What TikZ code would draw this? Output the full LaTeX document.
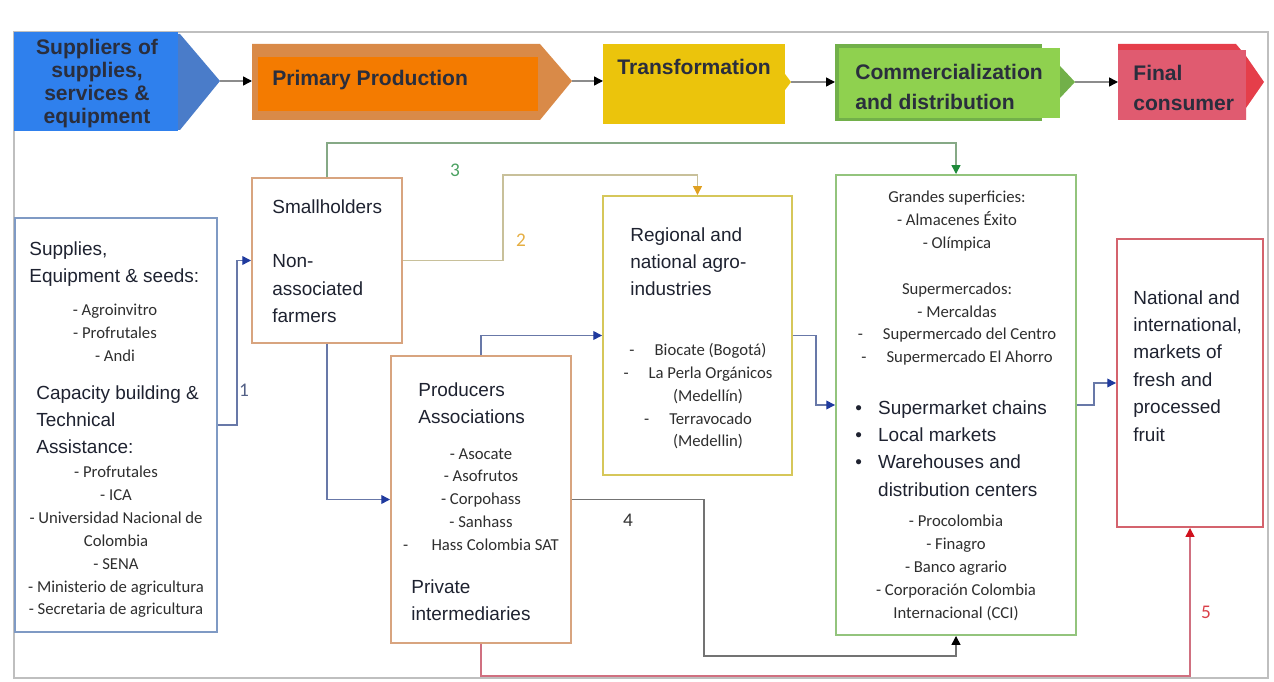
\documentclass[tikz,border=0pt]{standalone}
\usepackage{fontspec}
\setmainfont{Liberation Sans}
\newfontfamily\calf{Carlito}
\usetikzlibrary{arrows.meta,fit}
\definecolor{txt}{HTML}{1E2230}
\definecolor{gtxt}{HTML}{2E2E2E}
\definecolor{stxt}{HTML}{2A2E3D}
\definecolor{bluel}{HTML}{2F80ED}
\definecolor{blued}{HTML}{4A7CC9}
\definecolor{orgo}{HTML}{D98A48}
\definecolor{orgi}{HTML}{F47B00}
\definecolor{yel}{HTML}{EBC40C}
\definecolor{grnl}{HTML}{8FD14F}
\definecolor{grnd}{HTML}{72B04A}
\definecolor{redl}{HTML}{E05B70}
\definecolor{redd}{HTML}{E53E4A}
\definecolor{bsup}{HTML}{7F9AC4}
\definecolor{bfarm}{HTML}{D8A47F}
\definecolor{breg}{HTML}{D6C75A}
\definecolor{bcom}{HTML}{93C47D}
\definecolor{bfin}{HTML}{D4636D}
\definecolor{lblue}{HTML}{6878A8}
\definecolor{ablue}{HTML}{1F3A9E}
\definecolor{lolive}{HTML}{C8C09A}
\definecolor{aolive}{HTML}{E0A020}
\definecolor{lgreen}{HTML}{86A986}
\definecolor{agreen}{HTML}{1E8A3A}
\definecolor{lred}{HTML}{D07080}
\definecolor{ared}{HTML}{D0101C}
\begin{document}
\begin{tikzpicture}[x=0.02cm,y=-0.02cm]
	\tikzstyle{big}=[font=\fontsize{10.8}{15.6}\selectfont,text=txt,align=left,anchor=north west,inner sep=0]
	\tikzstyle{lst}=[font=\calf\fontsize{9.5}{13}\selectfont,text=gtxt,align=center,anchor=north,inner sep=0]
	\tikzstyle{stg}=[font=\bfseries\fontsize{12}{13.1}\selectfont,text=stxt,align=left,inner sep=0]
	\tikzstyle{box}=[draw,line width=1.1pt,inner sep=0]
	\tikzstyle{num}=[font=\calf\fontsize{11}{13}\selectfont,inner sep=0]
	\tikzstyle{barrow}=[draw=black!45,line width=0.8pt,-{Triangle[length=5pt,width=5pt,color=black]}]
	\tikzstyle{link}=[draw=lblue,line width=0.8pt,-{Triangle[length=5pt,width=5pt,color=ablue]}]
	\useasboundingbox (0,0) rectangle (1274,682);
	\draw[draw=black!25,line width=0.6pt] (14,32) rectangle (1268,678);
	
	% stages
	\fill[blued] (14,34) -- (180,34) -- (220,81) -- (180,130) -- (14,130) -- cycle;
	\fill[bluel] (14,32) rectangle (178,131);
	\fill[orgo] (252,44) -- (540,44) -- (572,81) -- (540,120) -- (252,120) -- cycle;
	\fill[orgi] (258,57) rectangle (538,111);
	\fill[yel] (603,44) rectangle (785,124);
	\fill[yel] (785,74) -- (791,82) -- (785,90) -- cycle;
	\fill[grnd] (835,44) rectangle (1042,121);
	\fill[grnl] (839,48) rectangle (1060,118);
	\fill[grnd] (1060,66) -- (1075,82) -- (1060,98) -- cycle;
	\fill[redd] (1118,44) -- (1236,44) -- (1246,56) -- (1264,82) -- (1246,108) -- (1246,120) -- (1118,120) -- cycle;
	\fill[redl] (1118,50) rectangle (1246,120);
	
	\node[stg,align=center] (supp) at (97,84) {Suppliers of\\supplies,\\services \&\\equipment};
	\node[stg,anchor=west] (prim) at (272,80) {Primary Production};
	\node[stg,anchor=west] (trans) at (617,67) {Transformation};
	\node[stg,anchor=west,font=\bfseries\fontsize{12}{17.6}\selectfont] (comm) at (855,87) {Commercialization\\and distribution};
	\node[stg,anchor=west,font=\bfseries\fontsize{12}{17}\selectfont] (cons) at (1133,88) {Final\\consumer};
	
	\coordinate (b1) at (220,81);
	\coordinate (o0) at (252,81);
	\coordinate (o1) at (572,81);
	\coordinate (y0) at (603,81);
	\coordinate (y1) at (791,82);
	\coordinate (g0) at (835,82);
	\coordinate (g1) at (1075,82);
	\coordinate (r0) at (1118,82);
	\draw[barrow] (b1) -- (o0);
	\draw[barrow] (o1) -- (y0);
	\draw[barrow] (y1) -- (g0);
	\draw[barrow] (g1) -- (r0);
	
	% actors
	\node[box,draw=bsup,fit={(15,218) (217,632)}] (sup) {};
	\node[box,draw=bfarm,fit={(252,178) (402,343)}] (farm) {};
	\node[box,draw=bfarm,fit={(391,356) (571,643)}] (prod) {};
	\node[box,draw=breg,fit={(603,196) (792,475)}] (reg) {};
	\node[box,draw=bcom,fit={(836,175) (1076,635)}] (com) {};
	\node[box,draw=bfin,fit={(1117,239) (1263,527)}] (fin) {};
	
	\node[big] (supt1) at (29,241) {Supplies,\\Equipment \& seeds:};
	\node[lst] (supl1) at (115,304) {- Agroinvitro\\- Profrutales\\- Andi};
	\node[big] (supt2) at (36,385) {Capacity building \&\\Technical\\Assistance:};
	\node[lst] (supl2) at (116,466) {- Profrutales\\- ICA\\- Universidad Nacional de\\Colombia\\- SENA\\- Ministerio de agricultura\\- Secretaria de agricultura};
	
	\node[big] (farmt) at (272,199) {Smallholders\\[15.6pt]Non-\\associated\\farmers};
	
	\node[big] (prodt1) at (418,382) {Producers\\Associations};
	\node[lst] (prodl) at (481,448) {- Asocate\\- Asofrutos\\- Corpohass\\- Sanhass\\-\hspace{1.4em}Hass Colombia SAT};
	\node[big] (prodt2) at (411,579) {Private\\intermediaries};
	
	\node[big] (regt) at (630,227) {Regional and\\national agro-\\industries};
	\node[lst] (regl) at (698,343) {-\hspace{1.2em}Biocate (Bogotá)\\-\hspace{1.2em}La Perla Orgánicos\\\hspace*{1.2em}(Medellín)\\-\hspace{1.2em}Terravocado\\\hspace*{1.2em}(Medellin)};
	
	\node[lst] (coml1) at (957,191) {Grandes superficies:\\- Almacenes Éxito\\- Olímpica\\[13pt]Supermercados:\\- Mercaldas\\-\hspace{1.2em}Supermercado del Centro\\-\hspace{1.2em}Supermercado El Ahorro};
	\node[big] (comb) at (855,400) {\makebox[13pt][l]{•}Supermarket chains\\\makebox[13pt][l]{•}Local markets\\\makebox[13pt][l]{•}Warehouses and\\\hspace*{13pt}distribution centers};
	\node[lst] (coml2) at (956,515) {- Procolombia\\- Finagro\\- Banco agrario\\- Corporación Colombia\\Internacional (CCI)};
	
	\node[big] (fint) at (1133,290) {National and\\international,\\markets of\\fresh and\\processed\\fruit};
	
	% flows
	\draw[link] (sup.east) -- ++(19,0) |- (farm.west);
	\draw[link,draw=lolive,-{Triangle[length=5pt,width=5pt,color=aolive]}] (farm.east) -| (503,175) -| (reg.north);
	\draw[link,draw=lgreen,-{Triangle[length=5pt,width=5pt,color=agreen]}] (farm.north) |- (956,143) -- (com.north);
	\draw[link] (farm.south) |- (prod.west);
	\draw[link] (prod.north) |- (reg.west);
	\draw[link] (reg.east) -- ++(23,0) |- (com.west);
	\draw[link] (com.east) -- ++(17,0) |- (fin.west);
	\draw[link,draw=black!55,-{Triangle[length=5pt,width=5pt,color=black]}] (prod.east) -| (704,656) -| (com.south);
	\draw[link,draw=lred,-{Triangle[length=5pt,width=5pt,color=ared]}] (prod.south) |- (1190,676) -- (fin.south);
	
	\node[num,text=lblue!80!black] (n1) at (244,390) {1};
	\node[num,text=aolive!85!white] (n2) at (521,240) {2};
	\node[num,text=agreen!80!white] (n3) at (455,170) {3};
	\node[num,text=black!80] (n4) at (628,520) {4};
	\node[num,text=ared!80!white] (n5) at (1206,612) {5};
\end{tikzpicture}
\end{document}
